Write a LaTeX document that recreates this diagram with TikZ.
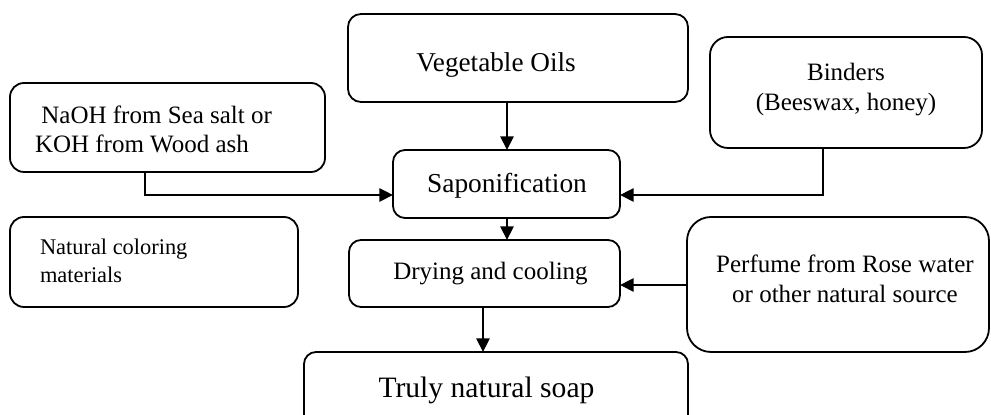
\documentclass[tikz,border=0pt]{standalone}
\usepackage{fontspec}
\setmainfont{Liberation Serif}
\usetikzlibrary{arrows.meta,calc}
\begin{document}
\begin{tikzpicture}[x=0.5pt,y=-0.5pt,
  box/.style={draw, line width=0.9pt, rectangle, rounded corners=#1,
    inner sep=0pt, outer sep=0pt},
  box/.default=7pt,
  txt/.style={inner sep=0pt, outer sep=0pt, font=\fontsize{12.5}{15}\selectfont},
  flow/.style={line width=0.9pt, -{Triangle[length=6.8pt,width=6.6pt]}}]
  \useasboundingbox (0,0) rectangle (991,415);
  \clip (0,0) rectangle (991,415);

  % process boxes
  \node[box=6.5pt, minimum width=170pt, minimum height=44pt] (veg) at (518,58) {};
  \node[box=9pt, minimum width=136pt, minimum height=55.5pt] (bind) at (846,92.5) {};
  \node[box=7pt, minimum width=157.5pt, minimum height=44.5pt] (naoh) at (167.5,127.5) {};
  \node[box=6pt, minimum width=113.5pt, minimum height=34pt] (sapon) at (506.5,184) {};
  \node[box=7pt, minimum width=144pt, minimum height=45pt] (color) at (154,262) {};
  \node[box=6pt, minimum width=135.5pt, minimum height=33.5pt] (dry) at (484.5,273.5) {};
  \node[box=12pt, minimum width=151pt, minimum height=67.5pt] (perf) at (838,284.5) {};
  \node[box=6pt, minimum width=192pt, minimum height=50pt] (soap) at (496,402) {};

  % labels
  \node[txt, anchor=base, font=\fontsize{13.6}{16}\selectfont] (vegt) at (496,72) {Vegetable Oils};
  \node[txt, align=center, font=\fontsize{12.5}{15}\selectfont] (bindt) at (846,90) {Binders\\(Beeswax, honey)};
  \node[txt, anchor=west, align=left, font=\fontsize{12.5}{14.5}\selectfont] (naoht) at (35,129)
    {\hspace*{3.2pt}NaOH from Sea salt or\\KOH from Wood ash};
  \node[txt, anchor=base, font=\fontsize{13.7}{16}\selectfont] (sapont) at (507,192.3) {Saponification};
  \node[txt, anchor=west, align=left, font=\fontsize{11.2}{14}\selectfont] (colort) at (40,260.4)
    {Natural coloring\\materials};
  \node[txt, anchor=base, font=\fontsize{12.5}{15}\selectfont] (dryt) at (490.5,280) {Drying and cooling};
  \node[txt, align=center, font=\fontsize{12.5}{15}\selectfont] (perft) at (845,278.5)
    {Perfume from Rose water\\or other natural source};
  \node[txt, anchor=base, font=\fontsize{14.8}{17}\selectfont] (soapt) at (486.5,398) {Truly natural soap};

  % connectors
  \coordinate (nbend) at (145,195);
  \coordinate (bbend) at (823,195);
  \draw[flow] (veg.south -| sapon.north) ++(0.5,0) coordinate (vs) -- (vs |- sapon.north);
  \draw[flow] (naoh.south -| nbend) -- (nbend) -- (nbend -| sapon.west);
  \draw[flow] (bind.south -| bbend) -- (bbend) -- (bbend -| sapon.east);
  \draw[flow] (sapon.south) ++(0.5,0) coordinate (sd) -- (sd |- dry.north);
  \draw[flow] (perf.west |- 0,285) coordinate (pw) -- (pw -| dry.east);
  \draw[flow] (dry.south) ++(-1.5,0) coordinate (ds) -- (ds |- soap.north);
\end{tikzpicture}
\end{document}
